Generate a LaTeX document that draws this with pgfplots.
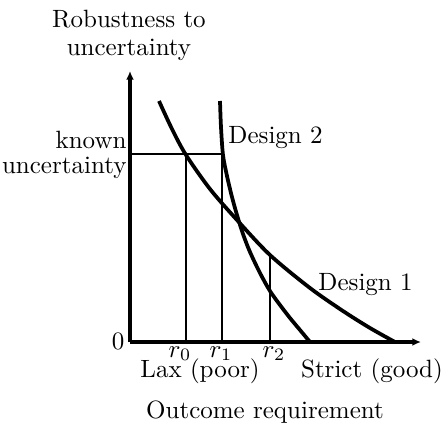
\documentclass[border=0pt]{standalone}
\usepackage{pgfplots}
\pgfplotsset{compat=1.18}
\usetikzlibrary{arrows.meta}
\begin{document}
\begin{tikzpicture}
\begin{axis}[
  x=0.40pt, y=0.40pt,
  xmin=0, xmax=291, ymin=0, ymax=271,
  axis x line=bottom, axis y line=left,
  axis line style={line width=1.25pt, -{Latex[length=3.4pt,width=3.1pt]}},
  xtick=\empty, ytick=\empty,
  enlargelimits=false,
  clip=false,
]
% Design 1
\addplot[line width=1.5pt, smooth, tension=0.5] coordinates {
  (29,241) (42,213) (56,187) (80,153) (107,122) (140,87) (180,54) (213,31) (240,14) (265,0)};
% Design 2
\addplot[line width=1.5pt, smooth, tension=0.5] coordinates {
  (90,241) (91,215) (93,187) (97,166) (102,145) (107,127) (113,108) (120,90) (130,69) (140,51) (150,37) (160,24) (170,12) (180,0)};
% known uncertainty line
\addplot[line width=1.15pt] coordinates {(0,188) (92,188)};
% r0, r1, r2
\addplot[line width=0.85pt] coordinates {(56,0) (56,188)};
\addplot[line width=0.85pt] coordinates {(92,0) (92,188)};
\addplot[line width=0.75pt] coordinates {(140,0) (140,87)};

\node[anchor=base, inner sep=0pt] at (axis cs:-1,315) {Robustness to};
\node[anchor=base, inner sep=0pt] at (axis cs:-1,287) {uncertainty};
\node[anchor=base east, inner sep=0pt] at (axis cs:-3,194) {known};
\node[anchor=base east, inner sep=0pt] at (axis cs:-3,169) {uncertainty};
\node[anchor=east, inner sep=0pt] at (axis cs:-5,1) {0};
\node[anchor=base, inner sep=0pt] at (axis cs:50,-15) {$r_0$};
\node[anchor=base, inner sep=0pt] at (axis cs:91,-15) {$r_1$};
\node[anchor=base, inner sep=0pt] at (axis cs:144,-15) {$r_2$};
\node[anchor=base, inner sep=0pt] at (axis cs:70,-35) {Lax (poor)};
\node[anchor=base, inner sep=0pt] at (axis cs:242,-35) {Strict (good)};
\node[anchor=base, inner sep=0pt] at (axis cs:135,-76) {Outcome requirement};
\node[anchor=base west, inner sep=0pt] at (axis cs:98,199) {Design 2};
\node[anchor=base west, inner sep=0pt] at (axis cs:188,52) {Design 1};

\coordinate (tl) at (axis cs:-130,342);
\coordinate (br) at (axis cs:313,-81);
\end{axis}
\pgfresetboundingbox
\path (tl) rectangle (br);
\end{tikzpicture}
\end{document}
